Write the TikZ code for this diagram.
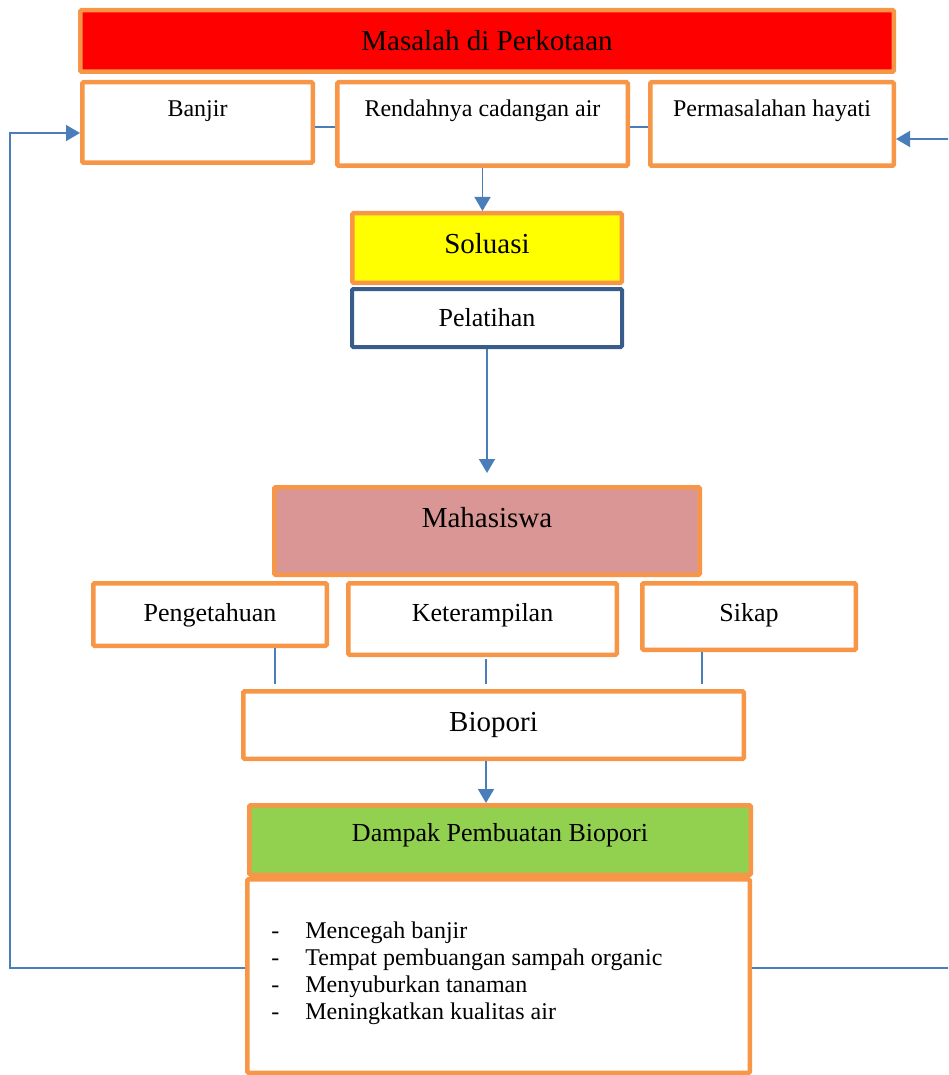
\documentclass[tikz,border=0pt]{standalone}
\usepackage{fontspec}
\setmainfont{Liberation Serif}
\usepackage{tikz}
\usetikzlibrary{arrows.meta, positioning}
\usepackage{xcolor}
\definecolor{Oranye}{HTML}{F79646}
\definecolor{GarisBiru}{HTML}{4A7EBB}
\definecolor{BiruTua}{HTML}{385D8A}
\definecolor{Merah}{HTML}{FF0000}
\definecolor{Kuning}{HTML}{FFFF00}
\definecolor{Hijau}{HTML}{92D050}
\definecolor{MerahMuda}{HTML}{D99694}

\begin{document}
\begin{tikzpicture}[
          x=0.5pt, y=-0.5pt,
          kotak/.style={rectangle, draw=Oranye, line width=2.25pt, fill=white, anchor=north west, inner sep=0pt, align=center, rounded corners=0.6pt},
          besar/.style={kotak, font=\fontsize{14.5}{17}\selectfont},
          kecil/.style={kotak, font=\fontsize{12}{14}\selectfont},
          sedang/.style={kotak, font=\fontsize{13}{15}\selectfont},
          panah/.style={-{Triangle[length=7pt, width=8pt]}, line width=0.8pt, GarisBiru},
          garis/.style={line width=0.8pt, GarisBiru}
        ]
          \useasboundingbox (0,0) rectangle (948,1075);
          \clip (0,0) rectangle (948,1075);

          % masalah
          \node (masalah) [besar, fill=Merah, minimum width=406.75pt, minimum height=30.75pt] at (78,8) {Masalah di Perkotaan};
          \node (banjir) [kecil, minimum width=115.25pt, text height=16.9pt, text depth=23.35pt] at (80,80) {Banjir};
          \node (rendah) [kecil, minimum width=145.25pt, text height=16.9pt, text depth=24.85pt] at (335,80) {Rendahnya cadangan air};
          \node (hayati) [kecil, minimum width=121.75pt, text height=16.9pt, text depth=24.85pt] at (648,80) {Permasalahan hayati};

          % solusi
          \node (soluasi) [besar, fill=Kuning, minimum width=134.75pt, text height=19.9pt, text depth=14.85pt] at (350,211) {Soluasi};
          \node (pelatihan) [sedang, draw=BiruTua, line width=2pt, minimum width=135pt, minimum height=29pt] at (350,287) {Pelatihan};

          % mahasiswa
          \node (mahasiswa) [besar, fill=MerahMuda, minimum width=212.75pt, text height=19.9pt, text depth=23.85pt] at (272,485) {Mahasiswa};
          \node (pengetahuan) [sedang, minimum width=116.75pt, text height=18.9pt, text depth=12.35pt] at (91,581) {Pengetahuan};
          \node (keterampilan) [sedang, minimum width=134.25pt, text height=18.9pt, text depth=16.85pt] at (346,581) {Keterampilan};
          \node (sikap) [sedang, minimum width=106.75pt, text height=18.9pt, text depth=14.35pt] at (640,581) {Sikap};
          \node (biopori) [besar, minimum width=250.25pt, minimum height=33.75pt] at (241,689) {Biopori};

          % dampak
          \node (hasil) [kecil, minimum width=251.25pt, minimum height=96.75pt] at (245,877) {};
          \node (dampak) [sedang, fill=Hijau, minimum width=250.75pt, text height=17.9pt, text depth=16.85pt] at (247,803) {Dampak Pembuatan Biopori};
          \node (daftar) [anchor=north west, inner sep=0pt, align=left, font=\fontsize{12}{13.5}\selectfont] at (271,921.5)
            {\makebox[17pt][l]{-}Mencegah banjir\\
             \makebox[17pt][l]{-}Tempat pembuangan sampah organic\\
             \makebox[17pt][l]{-}Menyuburkan tanaman\\
             \makebox[17pt][l]{-}Meningkatkan kualitas air};

          \coordinate (kiri) at (10,968);
          \coordinate (kanan) at (962,968);

          \draw [garis] (banjir.east |- 0,127) -- (rendah.west |- 0,127);
          \draw [garis] (rendah.east |- 0,127) -- (hayati.west |- 0,127);
          \draw [panah] (rendah.south) -- (rendah.south |- soluasi.north);
          \draw [panah, shorten >=6pt] (pelatihan.south) -- (mahasiswa.north);
          \draw [garis, shorten >=2.5pt] (pengetahuan.south -| 275,0) -- (biopori.north -| 275,0);
          \draw [garis, shorten <=1pt, shorten >=2.5pt] (keterampilan.south -| 486,0) -- (biopori.north -| 486,0);
          \draw [garis, shorten >=2.5pt] (sikap.south -| 702,0) -- (biopori.north -| 702,0);
          \draw [panah] (biopori.south -| 486,0) -- (dampak.north -| 486,0);
          \draw [panah] (hasil.west |- kiri) -- (kiri) |- ([yshift=-5.25pt]banjir.west);
          \draw [panah] (hasil.east |- kanan) -- (kanan) |- ([yshift=-7.5pt]hayati.east);
        \end{tikzpicture}
\end{document}
